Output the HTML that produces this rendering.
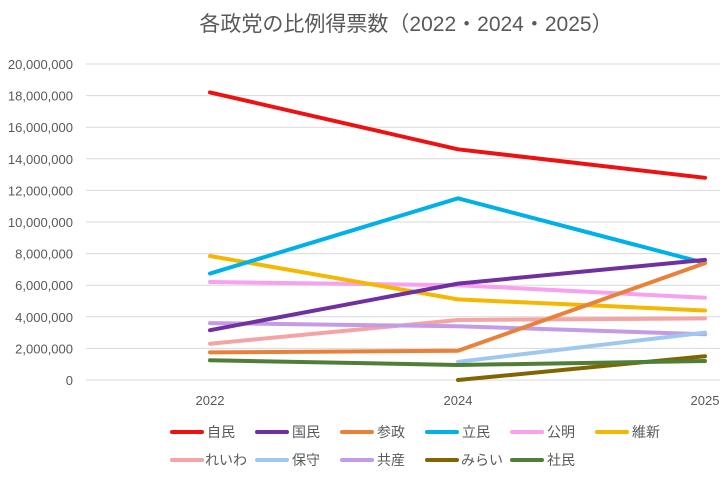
<!DOCTYPE html>
<html><head><meta charset="utf-8"><style>
body{margin:0;background:#fff;}
svg text{font-family:"Liberation Sans","Noto Sans CJK JP",sans-serif;fill:#595959;}
</style></head><body>
<svg width="726" height="472" viewBox="0 0 726 472" xmlns="http://www.w3.org/2000/svg">
<text x="406" y="31" font-size="21" text-anchor="middle">各政党の比例得票数（2022・2024・2025）</text>
<g stroke="#d9d9d9" stroke-width="1">
<line x1="86" x2="720" y1="64" y2="64"/><line x1="86" x2="720" y1="95.6" y2="95.6"/>
<line x1="86" x2="720" y1="127.2" y2="127.2"/><line x1="86" x2="720" y1="158.8" y2="158.8"/>
<line x1="86" x2="720" y1="190.4" y2="190.4"/><line x1="86" x2="720" y1="222" y2="222"/>
<line x1="86" x2="720" y1="253.6" y2="253.6"/><line x1="86" x2="720" y1="285.2" y2="285.2"/>
<line x1="86" x2="720" y1="316.8" y2="316.8"/><line x1="86" x2="720" y1="348.4" y2="348.4"/>
<line x1="86" x2="720" y1="380" y2="380"/>
</g>
<g font-size="13" text-anchor="end">
<text x="73" y="69">20,000,000</text><text x="73" y="100.6">18,000,000</text>
<text x="73" y="132.2">16,000,000</text><text x="73" y="163.8">14,000,000</text>
<text x="73" y="195.4">12,000,000</text><text x="73" y="227">10,000,000</text>
<text x="73" y="258.6">8,000,000</text><text x="73" y="290.2">6,000,000</text>
<text x="73" y="321.8">4,000,000</text><text x="73" y="353.4">2,000,000</text>
<text x="73" y="385">0</text>
</g>
<g font-size="13" text-anchor="middle">
<text x="210" y="405">2022</text><text x="458" y="405">2024</text><text x="705" y="405">2025</text>
</g>
<g fill="none" stroke-width="4" stroke-linejoin="round" stroke-linecap="round">
<polyline stroke="#f4a4a4" points="210,343.7 458,320 705,318.4"/>
<polyline stroke="#c49be8" points="210,323.1 458,326.3 705,334.2"/>
<polyline stroke="#f7a1f0" points="210,282 458,285.2 705,297.8"/>
<polyline stroke="#f5b800" points="210,256 458,299.4 705,310.5"/>
<polyline stroke="#9fc8f0" points="458,361.8 705,332.6"/>
<polyline stroke="#826400" points="458,380 705,356.3"/>
<polyline stroke="#00b0e8" points="210,273.6 458,198.3 705,263.1"/>
<polyline stroke="#e8823a" points="210,352.4 458,350.8 705,263.1"/>
<polyline stroke="#4f7f36" points="210,360.3 458,365 705,361"/>
<polyline stroke="#7030a0" points="210,330.2 458,283.6 705,259.9"/>
<polyline stroke="#ee1111" points="210,92.4 458,149.3 705,177.8"/>
</g>
<g stroke-width="4" stroke-linecap="round">
<line x1="172" x2="202" y1="432" y2="432" stroke="#ee1111"/>
<line x1="257" x2="287" y1="432" y2="432" stroke="#7030a0"/>
<line x1="342" x2="372" y1="432" y2="432" stroke="#e8823a"/>
<line x1="427" x2="457" y1="432" y2="432" stroke="#00b0e8"/>
<line x1="512" x2="542" y1="432" y2="432" stroke="#f7a1f0"/>
<line x1="597" x2="627" y1="432" y2="432" stroke="#f5b800"/>
<line x1="172" x2="202" y1="460" y2="460" stroke="#f4a4a4"/>
<line x1="257" x2="287" y1="460" y2="460" stroke="#9fc8f0"/>
<line x1="342" x2="372" y1="460" y2="460" stroke="#c49be8"/>
<line x1="427" x2="457" y1="460" y2="460" stroke="#826400"/>
<line x1="512" x2="542" y1="460" y2="460" stroke="#4f7f36"/>
</g>
<g font-size="14">
<text x="207" y="437">自民</text><text x="292" y="437">国民</text><text x="377" y="437">参政</text>
<text x="462" y="437">立民</text><text x="547" y="437">公明</text><text x="632" y="437">維新</text>
<text x="205" y="465">れいわ</text><text x="292" y="465">保守</text><text x="377" y="465">共産</text>
<text x="461" y="465">みらい</text><text x="547" y="465">社民</text>
</g>
</svg>
</body></html>
